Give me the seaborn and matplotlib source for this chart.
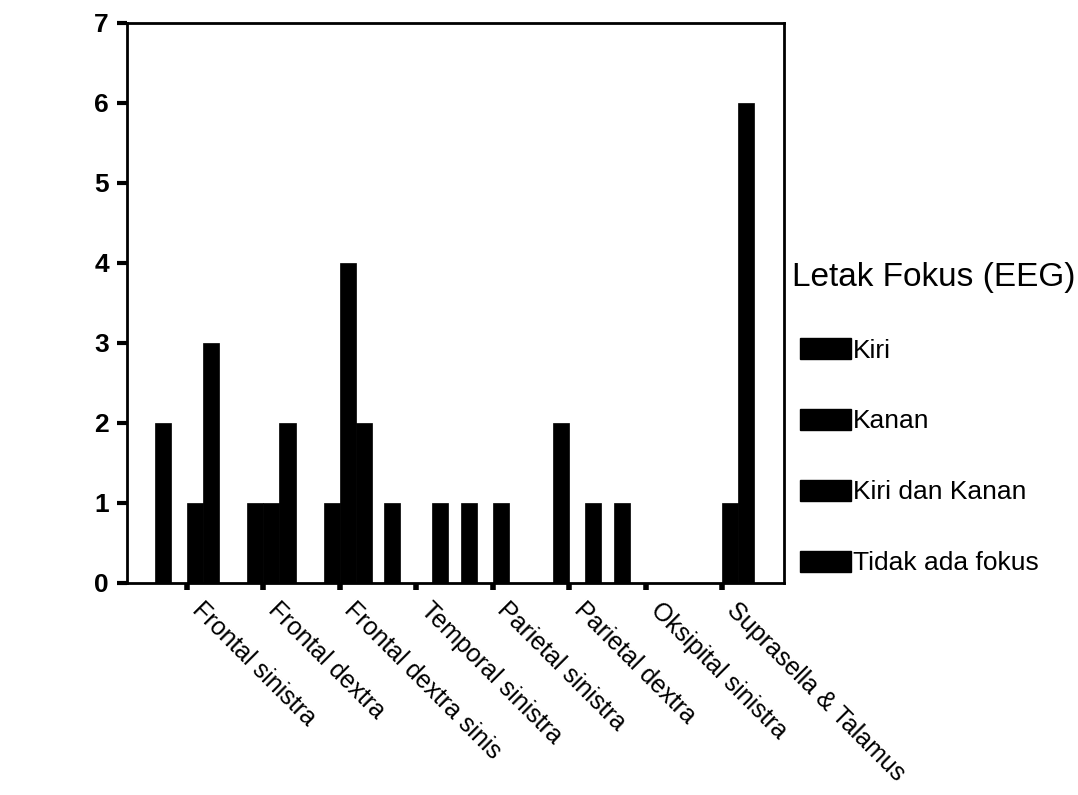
import matplotlib
matplotlib.use("Agg")
import matplotlib.pyplot as plt
import matplotlib.transforms as mtransforms
import seaborn as sns
import pandas as pd
from matplotlib.patches import Patch

categories = ["Frontal sinistra", "Frontal dextra", "Frontal dextra sinis",
              "Temporal sinistra", "Parietal sinistra", "Parietal dextra",
              "Oksipital sinistra", "Suprasella & Talamus"]
series = ["Kiri", "Kanan", "Kiri dan Kanan", "Tidak ada fokus"]
kiri = [2, 0, 0, 1, 1, 0, 1, 0]
kanan = [0, 1, 1, 0, 0, 2, 0, 0]
kiri_kanan = [1, 1, 4, 0, 1, 0, 0, 1]
tidak = [3, 2, 2, 1, 0, 1, 0, 6]
y_ticks = [0, 1, 2, 3, 4, 5, 6, 7]
legend_title = "Letak Fokus (EEG)"

rows = []
for s, vals in zip(series, [kiri, kanan, kiri_kanan, tidak]):
    for c, v in zip(categories, vals):
        rows.append({"Lokasi": c, "Jumlah": v, "Fokus": s})
df = pd.DataFrame(rows)

sns.set_theme(style="white")
plt.rcParams["font.family"] = ["Liberation Sans", "DejaVu Sans"]
plt.rcParams["text.color"] = "black"
plt.rcParams["xtick.color"] = "black"
plt.rcParams["ytick.color"] = "black"

W, H = 1078, 795
fig = plt.figure(figsize=(W / 100, H / 100), dpi=100)
ax = fig.add_axes([127 / W, 1 - 583 / H, (784 - 127) / W, (583 - 23) / H])

sns.barplot(data=df, x="Lokasi", y="Jumlah", hue="Fokus", order=categories,
            hue_order=series, palette=["black"] * 4, width=0.84, saturation=1,
            edgecolor="black", linewidth=0.5, legend=False, ax=ax)

ax.set_xlim(-0.785, 7.81)
ax.set_ylim(0, 7)
ax.set_yticks(y_ticks)
ax.set_yticklabels([str(t) for t in y_ticks], fontsize=19, fontweight="bold",
                   color="black")
ax.set_xlabel("")
ax.set_ylabel("")
for sp in ax.spines.values():
    sp.set_visible(True)
    sp.set_color("black")
    sp.set_linewidth(2)
ax.tick_params(axis="y", direction="out", length=7, width=3, color="black", pad=6, left=True)
ax.tick_params(axis="x", direction="out", length=5, width=4, color="black", pad=8, bottom=True)
ax.set_xticks(range(len(categories)))
ax.set_xticklabels(categories, rotation=-45, ha="left", va="top",
                   rotation_mode="anchor", fontsize=18, color="black")
offset = mtransforms.ScaledTranslation(0.17, 0.03, fig.dpi_scale_trans)
for lbl in ax.get_xticklabels():
    lbl.set_transform(lbl.get_transform() + offset)

handles = [Patch(facecolor="black", edgecolor="black") for _ in series]
fig.text(792 / W, 1 - 278 / H, legend_title, fontsize=24, ha="left", va="center",
         color="black")
leg = fig.legend(handles, series, loc="upper left", bbox_to_anchor=(800 / W, 1 - 338 / H),
                 frameon=False, fontsize=19, handlelength=1.95, handleheight=0.85,
                 handletextpad=0.05, labelspacing=1.75, borderpad=0, borderaxespad=0)
for t in leg.get_texts():
    t.set_color("black")

fig.savefig("out.png", dpi=100, facecolor="white")
